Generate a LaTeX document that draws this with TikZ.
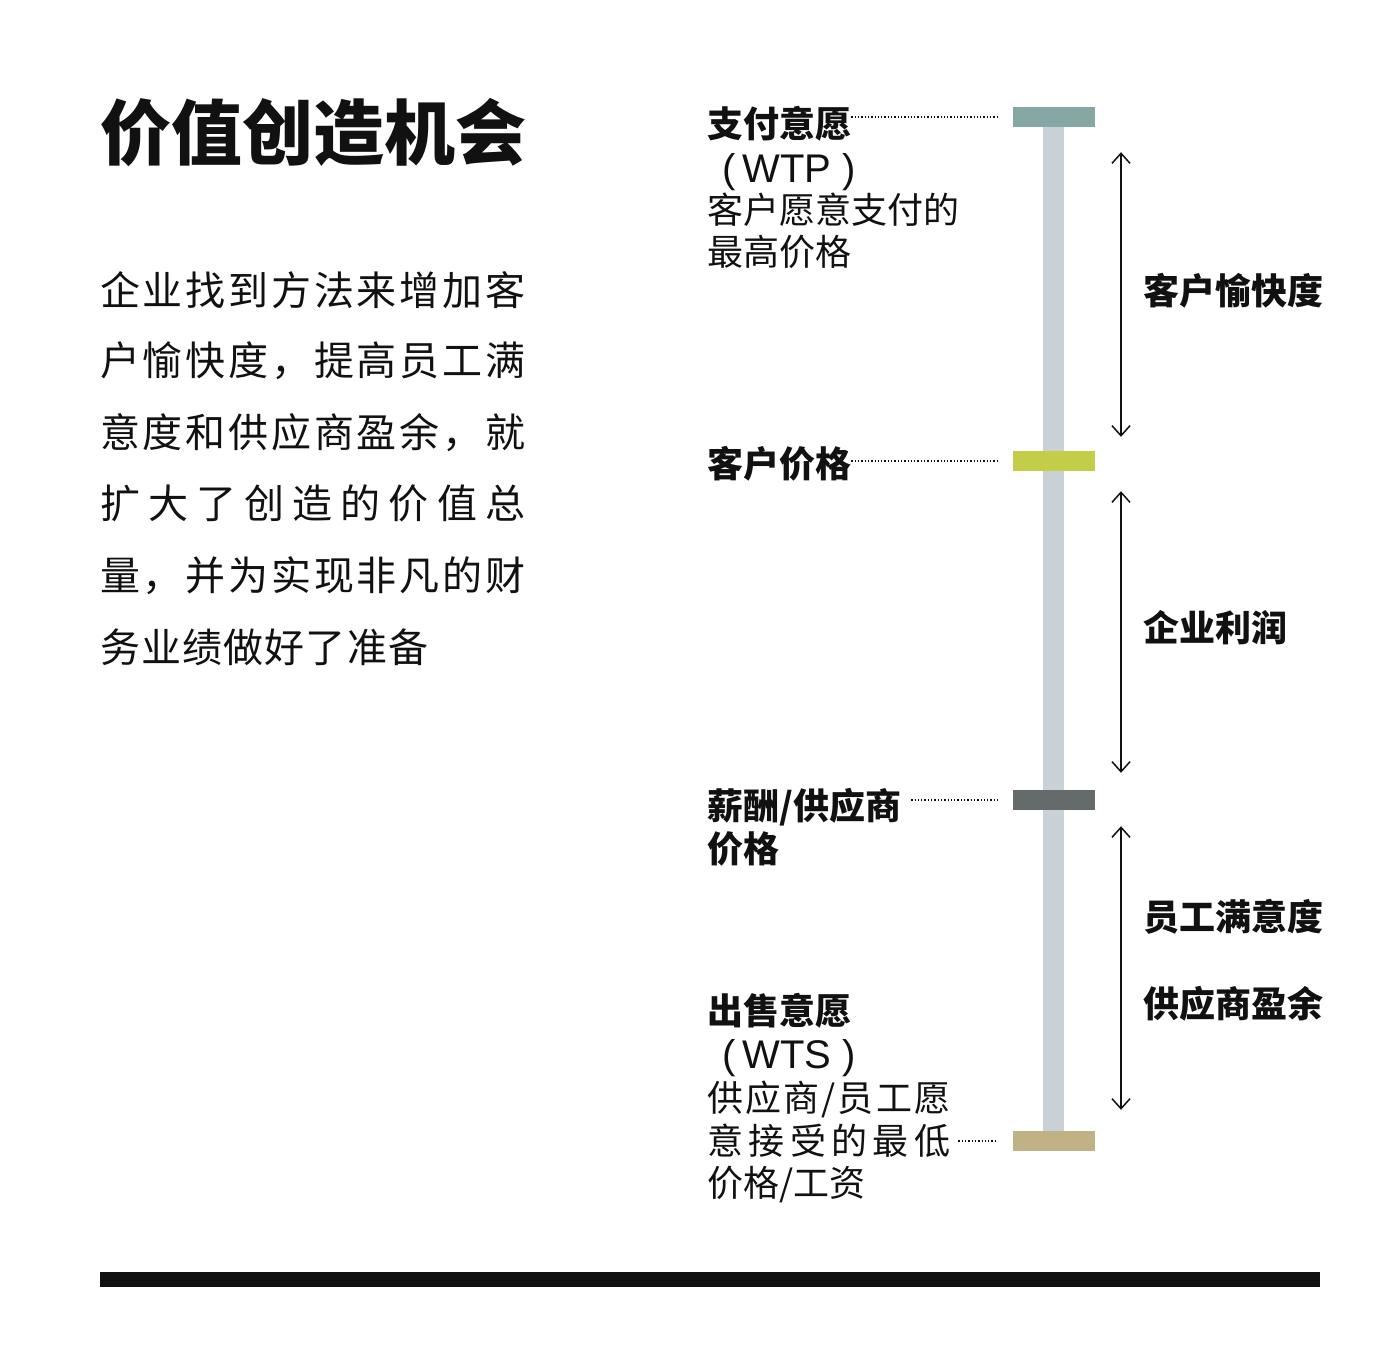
\documentclass[tikz,border=0pt]{standalone}
\usepackage{fontspec}
\setmainfont{Noto Sans CJK SC}
\newfontfamily\latinfont{Liberation Sans}
\usetikzlibrary{arrows.meta}
\definecolor{wtpc}{RGB}{133,168,164}
\definecolor{custc}{RGB}{195,205,72}
\definecolor{salc}{RGB}{101,106,107}
\definecolor{wtsc}{RGB}{192,178,132}
\definecolor{barc}{RGB}{201,208,214}
\definecolor{ink}{RGB}{17,17,17}
\newcommand\sz[1]{\fontsize{#1pt}{#1pt}\selectfont}
\newcommand\spreadto[2]{\makebox[#1][s]{#2}}
\newcommand\abbr[1]{\hspace{15pt}(\hspace{7pt}#1\hspace{11pt})}
\begin{document}
\begin{tikzpicture}[x=1pt,y=-1pt,text=ink,
 lbl/.style={anchor=base west,inner sep=0pt,font=\sz{36}},
 hd/.style={anchor=base west,inner sep=0pt,font=\sz{36}\bfseries},
 ab/.style={anchor=base west,inner sep=0pt,font=\latinfont\sz{40}},
 body/.style={anchor=base west,inner sep=0pt,font=\sz{40}},
 capbox/.style={minimum width=82pt,minimum height=20pt,inner sep=0pt},
 dots/.style={draw=ink,line width=1.3pt,dash pattern=on 1.3pt off 2pt,shorten >=15pt},
 span/.style={{Straight Barb[length=10pt,width=18pt]}-{Straight Barb[length=10pt,width=18pt]},draw=ink,line width=1.5pt}]
\useasboundingbox[fill=white] (0,0) rectangle (1390,1350);
% title and text
\node[anchor=base west,inner sep=0pt,font=\sz{71}\bfseries] (title) at (100,159) {价值创造机会};
\node[body] (t1) at (100,305) {\spreadto{425pt}{企\hfil 业\hfil 找\hfil 到\hfil 方\hfil 法\hfil 来\hfil 增\hfil 加\hfil 客}};
\node[body] (t2) at (100,375) {\spreadto{425pt}{户\hfil 愉\hfil 快\hfil 度\hfil ，\hfil 提\hfil 高\hfil 员\hfil 工\hfil 满}};
\node[body] (t3) at (100,447) {\spreadto{425pt}{意\hfil 度\hfil 和\hfil 供\hfil 应\hfil 商\hfil 盈\hfil 余\hfil ，\hfil 就}};
\node[body] (t4) at (100,518) {\spreadto{425pt}{扩\hfil 大\hfil 了\hfil 创\hfil 造\hfil 的\hfil 价\hfil 值\hfil 总}};
\node[body] (t5) at (100,590) {\spreadto{425pt}{量\hfil ，\hfil 并\hfil 为\hfil 实\hfil 现\hfil 非\hfil 凡\hfil 的\hfil 财}};
\node[body] (t6) at (100,662) {\spreadto{328pt}{务\hfil 业\hfil 绩\hfil 做\hfil 好\hfil 了\hfil 准\hfil 备}};
% scale
\node[fill=barc,minimum width=21pt,minimum height=1010pt,inner sep=0pt] (bar) at (1053.5,630) {};
\node[capbox,fill=wtpc] (capwtp) at (1054,117) {};
\node[capbox,fill=custc] (capcust) at (1054,461) {};
\node[capbox,fill=salc] (capsal) at (1054,800) {};
\node[capbox,fill=wtsc] (capwts) at (1054,1141) {};
% left labels
\node[hd] (wtp) at (707,137) {支付意愿};
\node[ab] (wtp2) at (707,182) {\abbr{WTP}};
\node[lbl] (wtp3) at (707,223) {客户愿意支付的};
\node[lbl] (wtp4) at (707,265) {最高价格};
\node[hd] (cust) at (707,477) {客户价格};
\node[hd] (sal) at (707,819) {薪酬/供应商};
\node[hd] (sal2) at (707,862) {价格};
\node[hd] (wts) at (707,1024) {出售意愿};
\node[ab] (wts2) at (707,1068) {\abbr{WTS}};
\node[lbl] (wts3) at (707,1111) {\spreadto{243pt}{供\hfil 应\hfil 商\hfil /\hfil 员\hfil 工\hfil 愿}};
\node[lbl] (wts4) at (707,1154) {\spreadto{243pt}{意\hfil 接\hfil 受\hfil 的\hfil 最\hfil 低}};
\node[lbl] (wts5) at (707,1196) {价格/工资};
\draw[dots] (wtp.east |- capwtp.west) -- (capwtp.west);
\draw[dots] (cust.east |- capcust.west) -- (capcust.west);
\draw[dots,shorten <=10pt] (sal.east |- capsal.west) -- (capsal.west);
\draw[dots,shorten <=8pt] (wts4.east |- capwts.west) -- (capwts.west);
% spans
\coordinate (ax) at (1121,0);
\foreach \a/\b/\s/\e in {capwtp/capcust/25/14,capcust/capsal/20/17,capsal/capwts/16/21}{
  \draw[span,shorten <=\s pt,shorten >=\e pt] (ax |- \a.south) -- (ax |- \b.north);}
\node[hd] (joy) at (1143,304) {客户愉快度};
\node[hd] (profit) at (1143,641) {企业利润};
\node[hd] (emp) at (1143,930) {员工满意度};
\node[hd] (sup) at (1143,1017) {供应商盈余};
% rule
\fill[ink] (100,1272) rectangle (1320,1287);
\end{tikzpicture}
\end{document}
